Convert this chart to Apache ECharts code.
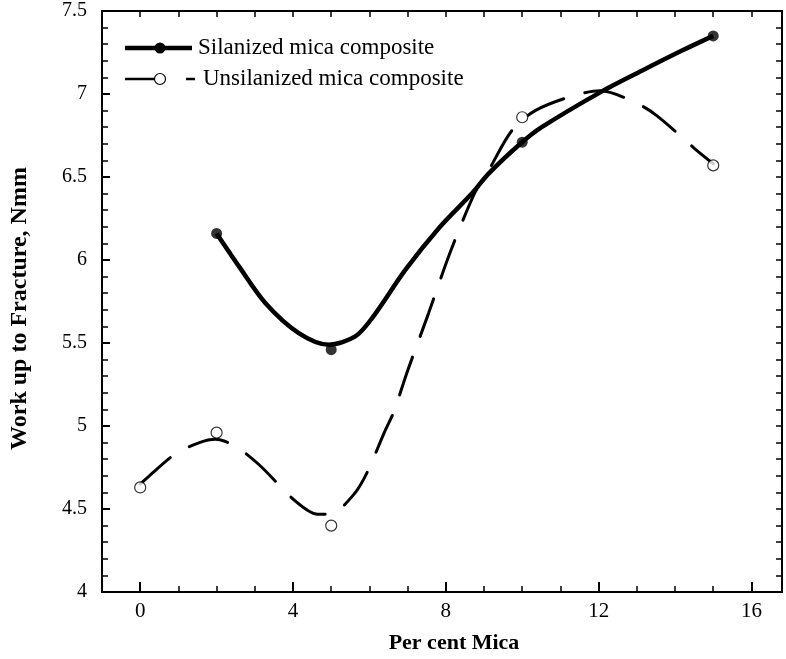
<!DOCTYPE html>
<html>
<head>
<meta charset="utf-8">
<script src="https://cdn.jsdelivr.net/npm/echarts@6/dist/echarts.min.js"></script>
<style>html,body{margin:0;padding:0;background:#fff}#c{width:786px;height:659px}</style>
</head>
<body>
<div id="c"></div>
<script>
// measured points
var silX = [2, 5, 10, 15];
var silY = [6.16, 5.46, 6.71, 7.35];
var unsX = [0, 2, 5, 10, 15];
var unsY = [4.63, 4.96, 4.40, 6.86, 6.57];
// fitted curves
var silFitX = [2, 2.59, 3.28, 4.15, 4.94, 5.63, 6.07, 6.94, 7.81, 8.68, 9.12, 9.95, 10.51, 12.04, 13.13, 14.17, 15];
var silFitY = [6.16, 5.96, 5.74, 5.56, 5.49, 5.54, 5.65, 5.94, 6.19, 6.40, 6.52, 6.70, 6.80, 7.01, 7.14, 7.26, 7.35];
var unsFitX = [0, 0.24, 0.94, 1.55, 1.97, 2.51, 3.12, 4.08, 4.64, 5.03, 5.6, 5.95, 6.38, 6.64, 6.98, 7.55, 8.12, 8.77, 9.12, 9.73, 10.34, 11.34, 12.04, 12.95, 13.52, 14.52, 15];
var unsFitY = [4.65, 4.70, 4.835, 4.90, 4.92, 4.875, 4.765, 4.544, 4.468, 4.474, 4.59, 4.725, 4.956, 5.086, 5.32, 5.68, 6.05, 6.41, 6.54, 6.78, 6.90, 6.99, 7.02, 6.95, 6.87, 6.67, 6.58];
var xMajor = [0, 4, 8, 12, 16];
var xMinor = [0,1,2,3,4,5,6,7,8,9,10,11,12,13,14,15,16];
var legendNames = ['Silanized mica composite', 'Unsilanized mica composite'];
var xTitle = 'Per cent Mica';
var yTitle = 'Work up to Fracture, Nmm';

function pairs(xs, ys) { return xs.map(function (x, i) { return [x, ys[i]]; }); }
var FONT = '"Liberation Serif", "Times New Roman", serif';

var chart = echarts.init(document.getElementById('c'));
var axisLine = { show: true, onZero: false, lineStyle: { color: '#000', width: 2 } };
var option = {
  backgroundColor: '#fff',
  animation: false,
  grid: { left: 100, top: 11, right: 4, bottom: 67, containLabel: false },
  xAxis: [
    { type: 'value', min: -1, max: 16.8, position: 'bottom', axisLine: axisLine, splitLine: { show: false },
      axisTick: { inside: true, length: 10, lineStyle: { color: '#000', width: 2 }, customValues: xMajor },
      axisLabel: { customValues: xMajor, color: '#000', fontFamily: FONT, fontSize: 21, margin: 9 },
      name: xTitle, nameLocation: 'middle', nameGap: 40,
      nameTextStyle: { color: '#000', fontFamily: FONT, fontSize: 22, fontWeight: 'bold', padding: [0, 0, 0, 24] } },
    { type: 'value', min: -1, max: 16.8, position: 'bottom', axisLine: { show: false }, splitLine: { show: false },
      axisTick: { inside: true, length: 6, lineStyle: { color: '#000', width: 1.5 }, customValues: xMinor },
      axisLabel: { show: false } },
    { type: 'value', min: -1, max: 16.8, position: 'top', axisLine: axisLine, splitLine: { show: false },
      axisTick: { inside: true, length: 6, lineStyle: { color: '#000', width: 1.5 }, customValues: xMinor },
      axisLabel: { show: false } }
  ],
  yAxis: [
    { type: 'value', min: 4, max: 7.5, interval: 0.5, position: 'left', axisLine: axisLine, splitLine: { show: false },
      axisTick: { inside: true, length: 8, lineStyle: { color: '#000', width: 2 } },
      minorTick: { show: true, splitNumber: 5, length: 6, lineStyle: { color: '#000', width: 1.5 } },
      minorSplitLine: { show: false },
      axisLabel: { color: '#000', fontFamily: FONT, fontSize: 20, margin: 15 },
      name: yTitle, nameLocation: 'middle', nameGap: 70, nameRotate: 90,
      nameTextStyle: { color: '#000', fontFamily: FONT, fontSize: 24, fontWeight: 'bold', padding: [0, 14, 0, 0] } },
    { type: 'value', min: 4, max: 7.5, interval: 0.5, position: 'right', axisLine: axisLine, splitLine: { show: false },
      axisTick: { inside: true, length: 6, lineStyle: { color: '#000', width: 1.5 } },
      minorTick: { show: true, splitNumber: 5, length: 6, lineStyle: { color: '#000', width: 1.5 } },
      minorSplitLine: { show: false },
      axisLabel: { show: false } }
  ],
  series: [
    { name: legendNames[0] + ' fit', type: 'line', data: pairs(silFitX, silFitY), smooth: 0.3, showSymbol: false, symbol: 'none',
      lineStyle: { color: '#000', width: 4.5 }, z: 3 },
    { name: legendNames[1] + ' fit', type: 'line', data: pairs(unsFitX, unsFitY), smooth: 0.3, showSymbol: false, symbol: 'none',
      lineStyle: { color: '#000', width: 3, type: [40, 22], cap: 'round' }, z: 3 },
    { name: legendNames[0], type: 'scatter', data: pairs(silX, silY), symbol: 'circle', symbolSize: 11,
      itemStyle: { color: '#000' }, z: 5 },
    { name: legendNames[1], type: 'scatter', data: pairs(unsX, unsY), symbol: 'circle', symbolSize: 11,
      itemStyle: { color: '#fff', borderColor: '#000', borderWidth: 1.2 }, z: 5 }
  ],
  graphic: [
    { type: 'line', shape: { x1: 125, y1: 48, x2: 192, y2: 48 }, style: { stroke: '#000', lineWidth: 4.5 } },
    { type: 'circle', shape: { cx: 160, cy: 48, r: 5.5 }, style: { fill: '#000' } },
    { type: 'text', x: 198, y: 48, style: { text: legendNames[0], font: '23px ' + FONT, fill: '#000', verticalAlign: 'middle' } },
    { type: 'line', shape: { x1: 125, y1: 79, x2: 154, y2: 79 }, style: { stroke: '#000', lineWidth: 2.5 } },
    { type: 'circle', shape: { cx: 160, cy: 79, r: 5.5 }, style: { fill: '#fff', stroke: '#000', lineWidth: 1.2 } },
    { type: 'line', shape: { x1: 186, y1: 79, x2: 195, y2: 79 }, style: { stroke: '#000', lineWidth: 2.5 } },
    { type: 'text', x: 203, y: 79, style: { text: legendNames[1], font: '23px ' + FONT, fill: '#000', verticalAlign: 'middle' } }
  ]
};
chart.setOption(option);
</script>
</body>
</html>
